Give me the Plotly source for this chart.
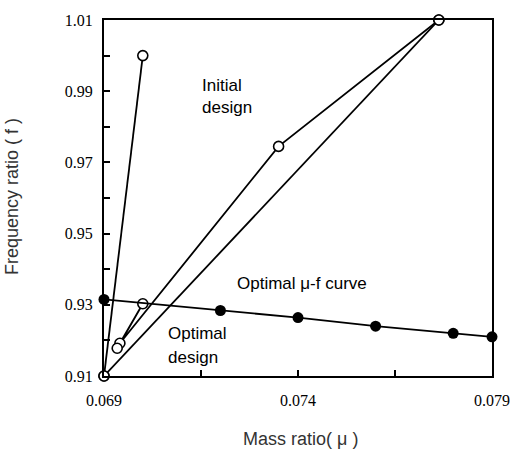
import plotly.graph_objects as go

# Optimal mu-f curve (filled markers)
opt_mu = [0.069, 0.072, 0.074, 0.076, 0.078, 0.079]
opt_f = [0.9315, 0.9284, 0.9264, 0.9240, 0.9220, 0.9210]

# Design paths (open markers)
path1_mu = [0.0700, 0.0690]
path1_f = [1.000, 0.910]
path2_mu = [0.07763, 0.0690]
path2_f = [1.010, 0.910]
path3_mu = [0.07763, 0.0735, 0.06941, 0.0700, 0.06934]
path3_f = [1.010, 0.9745, 0.9192, 0.9303, 0.9178]

x_ticks = [0.069, 0.074, 0.079]
y_ticks = [0.91, 0.93, 0.95, 0.97, 0.99, 1.01]

fig = go.Figure()

line_style = dict(color="black", width=1.8)
open_marker = dict(symbol="circle", size=10, color="white", line=dict(color="black", width=1.6))
filled_marker = dict(symbol="circle", size=11, color="black", line=dict(color="black", width=0))

for mu, f in [(path1_mu, path1_f), (path2_mu, path2_f), (path3_mu, path3_f)]:
    fig.add_trace(go.Scatter(x=mu, y=f, mode="lines+markers", line=line_style,
                             marker=open_marker, cliponaxis=False, showlegend=False))

fig.add_trace(go.Scatter(x=opt_mu, y=opt_f, mode="lines+markers", line=line_style,
                         marker=filled_marker, cliponaxis=False, showlegend=False))

tick_font = dict(family="Liberation Serif, Times New Roman, serif", size=16, color="black")

fig.update_xaxes(range=[0.069, 0.079], tickvals=x_ticks, ticktext=[f"{v:.3f}" for v in x_ticks],
                 ticks="inside", ticklen=6, tickwidth=1.5, tickcolor="black",
                 minor=dict(tickvals=[0.0715, 0.0765], ticks="inside", ticklen=6, tickwidth=1.5, tickcolor="black"),
                 showline=True, mirror=True, linecolor="black", linewidth=2,
                 showgrid=False, zeroline=False, tickfont=tick_font, ticklabelstandoff=9)
fig.update_yaxes(range=[0.91, 1.01], tickvals=y_ticks, ticktext=[f"{v:.2f}" for v in y_ticks],
                 ticks="inside", ticklen=6, tickwidth=1.5, tickcolor="black",
                 minor=dict(tickvals=[0.92, 0.94, 0.96, 0.98, 1.00], ticks="inside", ticklen=6, tickwidth=1.5, tickcolor="black"),
                 showline=True, mirror=True, linecolor="black", linewidth=2,
                 showgrid=False, zeroline=False, tickfont=tick_font, ticklabelstandoff=6)

ann_font = dict(family="Liberation Sans, Arial, sans-serif", size=17, color="black")
title_font = dict(family="Liberation Sans, Arial, sans-serif", size=18, color="#333333")

def px2paper(px, py):
    return (px - 104) / 388, (376 - py) / 360

annotations = []
for text, px, py in [("Initial", 200, 82), ("design", 200, 104),
                     ("Optimal μ-f curve", 235, 282),
                     ("Optimal", 166, 333), ("design", 166, 357)]:
    x, y = px2paper(px, py)
    annotations.append(dict(text=text, x=x, y=y, xref="paper", yref="paper",
                            xanchor="left", yanchor="middle", showarrow=False, font=ann_font))

x, y = px2paper(300, 440)
annotations.append(dict(text="Mass ratio( μ )", x=x, y=y, xref="paper", yref="paper",
                        xanchor="center", yanchor="middle", showarrow=False, font=title_font))
x, y = px2paper(12, 195)
annotations.append(dict(text="Frequency ratio ( f )", x=x, y=y, xref="paper", yref="paper",
                        xanchor="center", yanchor="middle", showarrow=False, textangle=-90, font=title_font))

fig.update_layout(width=525, height=453, margin=dict(l=104, r=33, t=16, b=77),
                  paper_bgcolor="white", plot_bgcolor="white", annotations=annotations)

fig.write_html("out.html")
